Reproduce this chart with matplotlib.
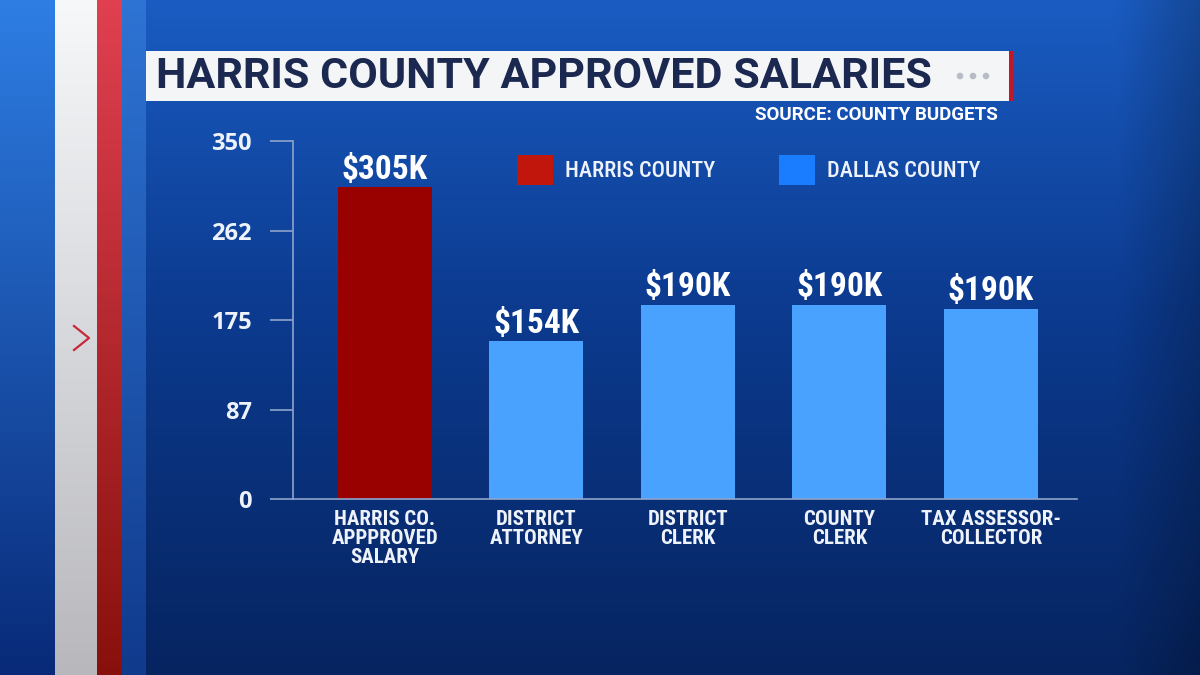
import os
import numpy as np
import matplotlib
matplotlib.use("Agg")
import matplotlib.pyplot as plt
import matplotlib.font_manager as fm
from matplotlib.patches import Rectangle, Circle
from matplotlib.lines import Line2D

# ---- data ----
categories = ["HARRIS CO.\nAPPPROVED\nSALARY", "DISTRICT\nATTORNEY", "DISTRICT\nCLERK",
              "COUNTY\nCLERK", "TAX ASSESSOR-\nCOLLECTOR"]
values = [305, 154, 190, 190, 186]
value_labels = ["$305K", "$154K", "$190K", "$190K", "$190K"]
groups = ["HARRIS COUNTY", "DALLAS COUNTY", "DALLAS COUNTY", "DALLAS COUNTY", "DALLAS COUNTY"]
yticks = [0, 87, 175, 262, 350]
title = "HARRIS COUNTY APPROVED SALARIES"
source = "SOURCE: COUNTY BUDGETS"

bar_colors = {"HARRIS COUNTY": "#990000", "DALLAS COUNTY": "#4aa2ff"}
legend_colors = {"HARRIS COUNTY": "#c0160c", "DALLAS COUNTY": "#1a7dff"}


# ---- font selection: prefer an installed condensed face ----
def _wt(f):
    w = f.weight
    if isinstance(w, str):
        return {"normal": 400, "regular": 400, "book": 400, "medium": 500, "semibold": 600,
                "demibold": 600, "bold": 700, "heavy": 800, "black": 900, "light": 300}.get(w.lower(), 400)
    return int(w)


def find_condensed(lo, hi):
    order = ["roboto", "liberation", "open sans", "opensans", "noto sans", "notosans", "dejavu", "lato", "inter"]
    best = None
    for f in fm.fontManager.ttflist:
        key = (f.name + " " + os.path.basename(f.fname)).lower()
        if not ("condensed" in key or "narrow" in key):
            continue
        if "extra" in key or "ultra" in key or "italic" in key or "oblique" in key or f.style != "normal":
            continue
        w = _wt(f)
        if not (lo <= w <= hi):
            continue
        rank = next((i for i, o in enumerate(order) if o in key), len(order))
        if "semi" in key:
            rank += 0.5
        rank += abs(w - hi) / 1000.0
        if best is None or rank < best[0]:
            best = (rank, f.fname)
    return best[1] if best else None


bold_path = find_condensed(700, 800)
reg_path = find_condensed(400, 600)
if bold_path:
    FB = fm.FontProperties(fname=bold_path)
    FR = fm.FontProperties(fname=reg_path) if reg_path else fm.FontProperties(fname=bold_path)
    S_VAL, S_CAT, S_LEG = 24, 15, 16
else:
    FB = fm.FontProperties(family=["Roboto", "DejaVu Sans"], weight="bold")
    FR = fm.FontProperties(family=["Roboto", "DejaVu Sans"], weight="medium")
    S_VAL, S_CAT, S_LEG = 21, 13, 14.5
FW = fm.FontProperties(family=["Roboto", "DejaVu Sans"], weight="bold")


def fp(base, size):
    p = base.copy()
    p.set_size(size)
    return p


W, H = 1200, 675
fig = plt.figure(figsize=(12, 6.75), dpi=100)

# ---- background ----
bg = fig.add_axes([0, 0, 1, 1])
bg.set_axis_off()
yy = np.linspace(0, 1, H)[:, None]
xx = np.linspace(0, 1, W)[None, :]
top = np.array([0x1a, 0x5c, 0xc2]) / 255
mid = np.array([0x0c, 0x3b, 0x90]) / 255
bot = np.array([0x06, 0x24, 0x60]) / 255
t = yy[..., None]
col = np.where(t < 0.45, top + (mid - top) * (t / 0.45), mid + (bot - mid) * ((t - 0.45) / 0.55))
img = np.broadcast_to(col, (H, W, 3)).copy()
xr = np.clip((xx - 0.93) / 0.07, 0, 1)[..., None]
img = img * (1 - 0.22 * xr)


def vgrad(c1, c2):
    c1 = np.array(c1) / 255
    c2 = np.array(c2) / 255
    return c1 + (c2 - c1) * np.linspace(0, 1, H)[:, None]


img[:, 0:55] = vgrad((0x2e, 0x7e, 0xe4), (0x08, 0x2a, 0x78))[:, None, :]
img[:, 55:97] = vgrad((0xf6, 0xf8, 0xfa), (0xb8, 0xb8, 0xbc))[:, None, :]
img[:, 97:122] = vgrad((0xe0, 0x40, 0x50), (0x88, 0x10, 0x0c))[:, None, :]
img[:, 122:146] = vgrad((0x2e, 0x74, 0xd4), (0x10, 0x3a, 0x8c))[:, None, :]
bg.imshow(np.clip(img, 0, 1), extent=[0, W, H, 0], aspect="auto", interpolation="bilinear")
bg.set_xlim(0, W)
bg.set_ylim(H, 0)

# chevron
bg.add_line(Line2D([74, 89, 74], [326, 338, 350], color="#c8283a", lw=1.6))

# title box
bg.add_patch(Rectangle((146, 51), 866, 50, facecolor="#f4f5f7", edgecolor="none"))
bg.add_patch(Rectangle((1009, 51), 4, 50, facecolor="#c0182a", edgecolor="none"))
bg.text(156, 77, title, fontproperties=fp(FW, 31), color="#1b2850", ha="left", va="center")
for dx in (960, 973, 986):
    bg.add_patch(Circle((dx, 76), 3.3, facecolor="#b8bcc6", edgecolor="none"))
bg.text(998, 115, source, fontproperties=fp(FW, 13.5), color="white", ha="right", va="center")

# ---- chart ----
ax = fig.add_axes([293 / W, 1 - 499 / H, (1077 - 293) / W, (499 - 141) / H])
ax.patch.set_alpha(0)
x = np.arange(len(categories))
colors = [bar_colors[g] for g in groups]
bars = ax.bar(x, values, width=0.62, color=colors, zorder=2)
ax.set_xlim(-0.607, len(categories) - 1 + 0.568)
ax.set_ylim(0, 350)
ax.set_yticks(yticks)
ax.set_yticklabels([str(v) for v in yticks], fontsize=17, fontweight="bold", color="#eef2fa",
                   family=["Open Sans", "DejaVu Sans"])
ax.tick_params(axis="y", length=16.5, width=1.2, color="#8ea4cc", pad=13)
ax.set_xticks(x)
ax.set_xticklabels(categories, fontproperties=fp(FB, S_CAT), color="#eef2fa", linespacing=1.0)
ax.tick_params(axis="x", length=0, pad=8)
for s in ("top", "right"):
    ax.spines[s].set_visible(False)
for s in ("left", "bottom"):
    ax.spines[s].set_color("#8ea4cc")
    ax.spines[s].set_linewidth(1.2)

for b, lab in zip(bars, value_labels):
    ax.annotate(lab, (b.get_x() + b.get_width() / 2, b.get_height()), xytext=(0, 1),
                textcoords="offset points", ha="center", va="bottom",
                fontproperties=fp(FB, S_VAL), color="white")

# legend
for (lx, name) in ((517, "HARRIS COUNTY"), (779, "DALLAS COUNTY")):
    bg.add_patch(Rectangle((lx, 155), 36, 30, facecolor=legend_colors[name], edgecolor="none"))
    bg.text(lx + 48, 171, name, fontproperties=fp(FR, S_LEG), color="#eef2fa",
            ha="left", va="center")

fig.savefig("out.png", dpi=100)
